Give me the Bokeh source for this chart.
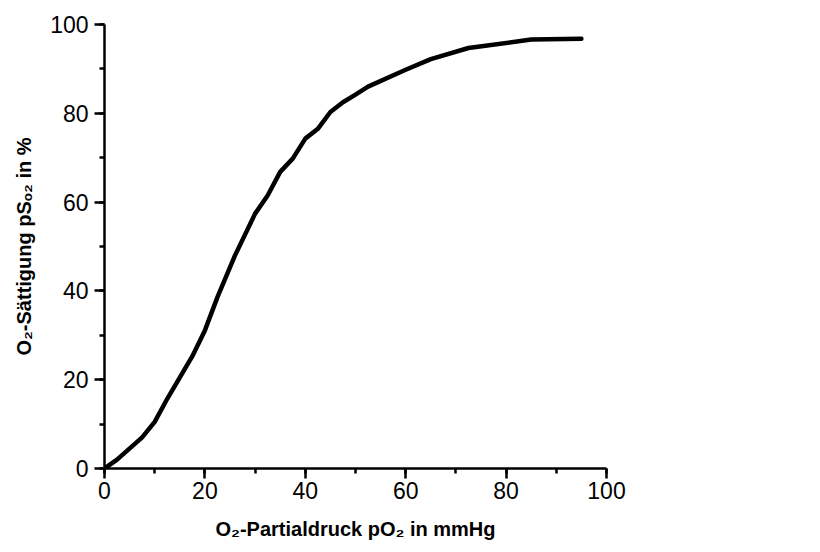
from bokeh.plotting import figure
from bokeh.models import Range1d, SingleIntervalTicker
from bokeh.embed import file_html
from bokeh.resources import INLINE

po2 = [0, 2.5, 7.5, 10, 12.5, 17.5, 20, 22.5, 26, 30, 32.5, 35, 37.5, 40,
       42.5, 45, 47.5, 50, 52.5, 60, 65, 72.5, 85, 95]
so2 = [0, 2, 7, 10.5, 15.7, 25.3, 31.1, 38.6, 48, 57.4, 61.5, 66.8, 69.8, 74.3,
       76.5, 80.3, 82.5, 84.2, 86, 89.8, 92.2, 94.7, 96.6, 96.8]

x_label = "O₂-Partialdruck pO₂ in mmHg"
y_label = "O₂-Sättigung pSₒ₂ in %"

FONT = "Liberation Sans"

p = figure(frame_width=502, frame_height=444, output_backend="svg",
           toolbar_location=None, x_range=Range1d(0, 100), y_range=Range1d(0, 100),
           min_border_left=104, min_border_top=24, min_border_right=40,
           min_border_bottom=76)
p.outline_line_color = None
p.grid.visible = False
p.background_fill_color = "white"
p.border_fill_color = "white"

p.line(po2, so2, line_color="black", line_width=4.5, line_cap="round", line_join="round")

for ax in (p.xaxis[0], p.yaxis[0]):
    ax.ticker = SingleIntervalTicker(interval=20, num_minor_ticks=2)
    ax.axis_line_width = 2.5
    ax.major_tick_line_width = 2.5
    ax.minor_tick_line_width = 2.5
    ax.major_tick_in = 0
    ax.minor_tick_in = 0
    ax.major_tick_out = 10
    ax.minor_tick_out = 5
    ax.major_label_text_font = FONT
    ax.major_label_text_font_size = "23px"
    ax.major_label_text_color = "black"
    ax.axis_label_text_font = FONT
    ax.axis_label_text_font_size = "20px"
    ax.axis_label_text_font_style = "bold"
    ax.axis_label_text_color = "black"

p.xaxis.axis_label = x_label
p.yaxis.axis_label = y_label
p.xaxis.major_label_standoff = 3
p.yaxis.major_label_standoff = 6
p.xaxis.axis_label_standoff = 16
p.yaxis.axis_label_standoff = 12

open("out.html", "w").write(file_html(p, INLINE))
